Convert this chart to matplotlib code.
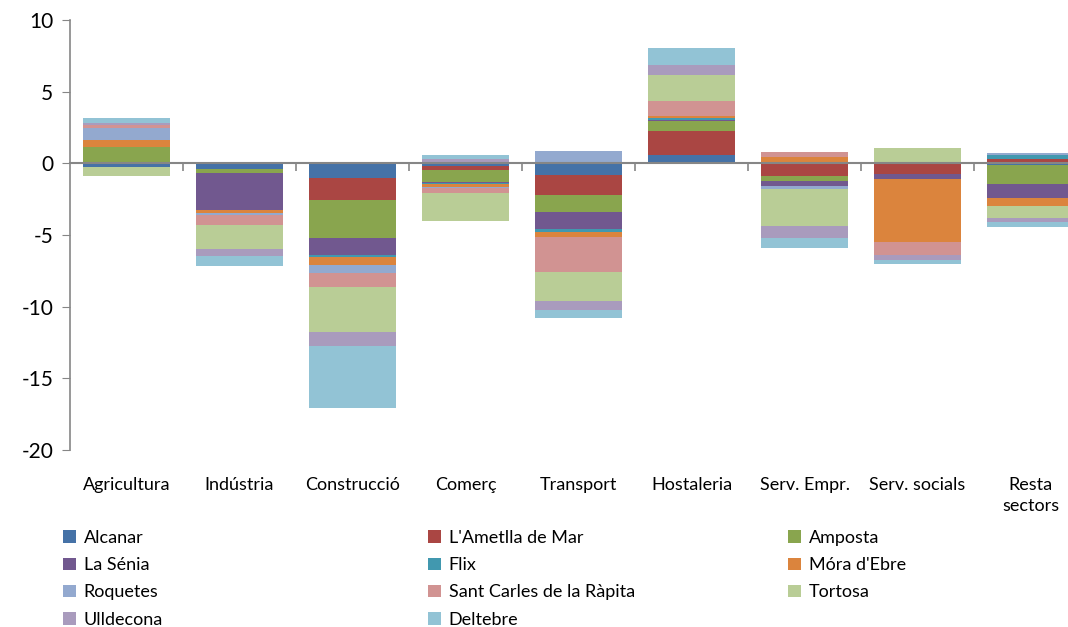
import matplotlib
matplotlib.use("Agg")
import matplotlib.pyplot as plt
import matplotlib.transforms as mtransforms
from matplotlib.patches import Patch
import numpy as np

plt.rcParams['font.family'] = ['Lato', 'DejaVu Sans']
plt.rcParams['axes.unicode_minus'] = False

categories = ["Agricultura", "Indústria", "Construcció", "Comerç", "Transport",
              "Hostaleria", "Serv. Empr.", "Serv. socials", "Resta\nsectors"]

series_names = ["Alcanar", "L'Ametlla de Mar", "Amposta", "La Sénia", "Flix",
                "Móra d'Ebre", "Roquetes", "Sant Carles de la Ràpita", "Tortosa",
                "Ulldecona", "Deltebre"]

colors = ["#4572A7", "#AA4643", "#89A54E", "#71588F", "#4198AF", "#DB843D",
          "#93A9CF", "#D19392", "#B9CD96", "#A99BBD", "#92C3D5"]

alcanar    = [-0.25, -0.37, -1.05, -0.22, -0.84, 0.56, 0.00, 0.00, -0.10]
ametlla    = [0.00, 0.00, -1.49, -0.26, -1.35, 1.67, -0.88, -0.74, 0.30]
amposta    = [1.16, -0.28, -2.67, -0.81, -1.23, 0.70, -0.35, 0.10, -1.33]
la_senia   = [0.00, -2.60, -1.16, -0.07, -1.19, 0.12, -0.35, -0.33, -0.98]
flix       = [0.00, 0.00, -0.16, -0.10, -0.19, 0.12, 0.12, 0.00, 0.25]
mora       = [0.44, -0.19, -0.56, -0.17, -0.35, 0.12, 0.33, -4.40, -0.60]
roquetes   = [0.88, -0.16, -0.56, -0.10, 0.86, 0.00, -0.19, 0.00, 0.17]
sant_carles= [0.16, -0.72, -0.95, -0.37, -2.40, 1.09, 0.33, -0.95, 0.00]
tortosa    = [-0.63, -1.67, -3.14, -1.95, -2.07, 1.77, -2.60, 1.00, -0.80]
ulldecona  = [0.20, -0.47, -0.98, 0.28, -0.63, 0.74, -0.81, -0.35, -0.26]
deltebre   = [0.35, -0.72, -4.37, 0.28, -0.53, 1.16, -0.70, -0.28, -0.37]

series = [alcanar, ametlla, amposta, la_senia, flix, mora, roquetes,
          sant_carles, tortosa, ulldecona, deltebre]

W, H = 1068, 627
fig = plt.figure(figsize=(W / 100, H / 100), dpi=100)
ax = fig.add_axes([70 / W, 1 - 450 / H, 1017 / W, 430 / H])

x = np.arange(len(categories))
pos_bottom = np.zeros(len(categories))
neg_bottom = np.zeros(len(categories))
handles = []
for name, vals, c in zip(series_names, series, colors):
    v = np.array(vals, dtype=float)
    bottom = np.where(v >= 0, pos_bottom, neg_bottom)
    ax.bar(x, v, width=0.77, bottom=bottom, color=c, linewidth=0)
    pos_bottom = pos_bottom + np.where(v > 0, v, 0)
    neg_bottom = neg_bottom + np.where(v < 0, v, 0)
    handles.append(Patch(facecolor=c, edgecolor='none', label=name))

ax.set_xlim(-0.5, len(categories) - 0.5)
ax.set_ylim(-20, 10)
ax.set_yticks([-20, -15, -10, -5, 0, 5, 10])
ax.tick_params(axis='y', direction='out', length=6, color='#868686',
               labelsize=15, pad=6)

ax.spines['top'].set_visible(False)
ax.spines['right'].set_visible(False)
ax.spines['left'].set_color('#868686')
ax.spines['bottom'].set_position(('data', 0))
ax.spines['bottom'].set_color('#868686')
ax.spines['bottom'].set_linewidth(1.5)
ax.spines['left'].set_linewidth(1.2)
ax.set_xticks(np.arange(len(categories)) + 0.5)
ax.set_xticklabels([])
ax.tick_params(axis='x', direction='out', length=6, color='#868686', width=1.2)

trans = mtransforms.blended_transform_factory(ax.transData, ax.transAxes)
for xi, cat in zip(x, categories):
    ax.text(xi, -0.063, cat, transform=trans, ha='center', va='top',
            fontsize=13, linespacing=1.35)

# legend in three columns, row-major like the reference
col_x = [63, 428, 788]
for ci in range(3):
    hs = handles[ci::3]
    fig.legend(handles=hs, loc='upper left',
               bbox_to_anchor=(col_x[ci] / W, 1 - 530 / H),
               frameon=False, fontsize=13, handlelength=0.7,
               handleheight=0.7, handletextpad=0.45, labelspacing=0.62,
               borderpad=0, borderaxespad=0)

fig.savefig("out.png", dpi=100)
